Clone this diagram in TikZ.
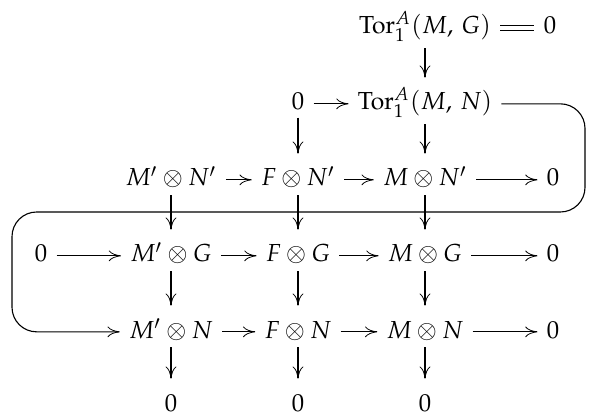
\documentclass[tikz,border=0pt]{standalone}
\usepackage{mathpazo}
\usetikzlibrary{arrows.meta}
\begin{document}
\begin{tikzpicture}[x=0.406pt,y=-0.406pt,
  obj/.style={anchor=base, inner xsep=3.8pt, inner ysep=2.9pt, text height=10.2pt, outer sep=0pt},
  arr/.style={line width=0.45pt, -{To[length=5pt,width=4.4pt,line width=0.32pt]}},
  eqs/.style={double, double distance=1.7pt, line width=0.45pt},
  snake/.style={arr, rounded corners=10pt}]
\useasboundingbox (0,0) rectangle (589,415);
% row 0
\node[obj] (tmg) at (425,34) {$\mathrm{Tor}_1^A(M,\,G)$};
\node[obj] (z0) at (550,34) {$0$};
% row 1
\node[obj] (z1) at (298,110) {$0$};
\node[obj] (tmn) at (425,110) {$\mathrm{Tor}_1^A(M,\,N)$};
% row 2
\node[obj] (a1) at (171,186) {$M'\otimes N'$};
\node[obj] (b1) at (298,186) {$F\otimes N'$};
\node[obj] (c1) at (425,186) {$M\otimes N'$};
\node[obj] (z2) at (553,186) {$0$};
% row 3
\node[obj] (z3l) at (41,262) {$0$};
\node[obj] (a2) at (171,262) {$M'\otimes G$};
\node[obj] (b2) at (298,262) {$F\otimes G$};
\node[obj] (c2) at (425,262) {$M\otimes G$};
\node[obj] (z3) at (553,262) {$0$};
% row 4
\node[obj] (a3) at (171,338) {$M'\otimes N$};
\node[obj] (b3) at (298,338) {$F\otimes N$};
\node[obj] (c3) at (425,338) {$M\otimes N$};
\node[obj] (z4) at (553,338) {$0$};
% row 5
\node[obj] (z5a) at (171,411) {$0$};
\node[obj] (z5b) at (298,411) {$0$};
\node[obj] (z5c) at (425,411) {$0$};
% snake corners
\coordinate (snR) at (585,212);
\coordinate (snL) at (12,212);
% horizontal
\draw[eqs] ([yshift=2.5pt]tmg.base east) -- ([yshift=2.5pt]z0.base west);
\draw[arr] ([yshift=2.5pt]z1.base east) -- ([yshift=2.5pt]tmn.base west);
\draw[arr] ([yshift=2.5pt]a1.base east) -- ([yshift=2.5pt]b1.base west);
\draw[arr] ([yshift=2.5pt]b1.base east) -- ([yshift=2.5pt]c1.base west);
\draw[arr] ([yshift=2.5pt]c1.base east) -- ([yshift=2.5pt]z2.base west);
\draw[arr] ([yshift=2.5pt]z3l.base east) -- ([yshift=2.5pt]a2.base west);
\draw[arr] ([yshift=2.5pt]a2.base east) -- ([yshift=2.5pt]b2.base west);
\draw[arr] ([yshift=2.5pt]b2.base east) -- ([yshift=2.5pt]c2.base west);
\draw[arr] ([yshift=2.5pt]c2.base east) -- ([yshift=2.5pt]z3.base west);
\draw[arr] ([yshift=2.5pt]a3.base east) -- ([yshift=2.5pt]b3.base west);
\draw[arr] ([yshift=2.5pt]b3.base east) -- ([yshift=2.5pt]c3.base west);
\draw[arr] ([yshift=2.5pt]c3.base east) -- ([yshift=2.5pt]z4.base west);
% vertical
\draw[arr] (tmg.south) -- (tmn.north);
\draw[arr] (z1.south) -- (b1.north);
\draw[arr] (tmn.south) -- (c1.north);
\draw[arr] (a1.south) -- (a2.north);
\draw[arr] (b1.south) -- (b2.north);
\draw[arr] (c1.south) -- (c2.north);
\draw[arr] (a2.south) -- (a3.north);
\draw[arr] (b2.south) -- (b3.north);
\draw[arr] (c2.south) -- (c3.north);
\draw[arr] (a3.south) -- (z5a.north);
\draw[arr] (b3.south) -- (z5b.north);
\draw[arr] (c3.south) -- (z5c.north);
% snake
\draw[snake] ([yshift=2.5pt]tmn.base east) -| (snR) -- (snL) |- ([yshift=2.5pt]a3.base west);
\end{tikzpicture}
\end{document}
